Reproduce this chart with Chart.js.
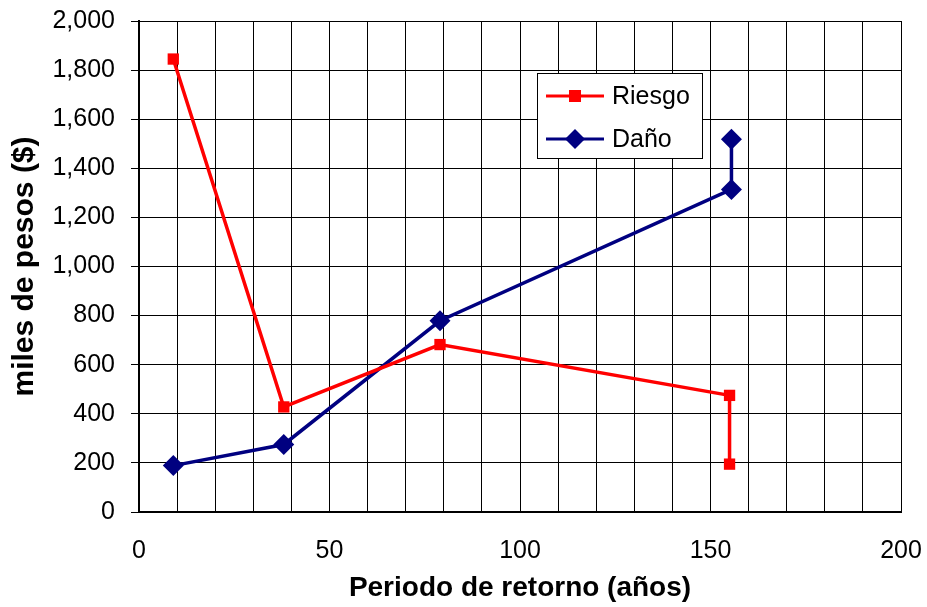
<!DOCTYPE html>
<html>
<head>
<meta charset="utf-8">
<script src="https://cdn.jsdelivr.net/npm/chart.js@4/dist/chart.umd.min.js"></script>
<style>
  html, body { margin: 0; padding: 0; background: #fff; }
  #wrap { width: 927px; height: 607px; }
</style>
</head>
<body>
<div id="wrap"><canvas id="myChart" width="927" height="607"></canvas></div>
<script>
// values
const riesgoX = [9, 38, 79, 155, 155];
const riesgoY = [1845, 428, 682, 475, 195];
const danoX = [9, 38, 79, 155.5, 155.5];
const danoY = [189, 275, 779, 1314, 1518];
const xTicks = [0, 50, 100, 150, 200];
const seriesNames = ["Riesgo", "Daño"];

const FONT = "'Liberation Sans', Arial, sans-serif";

function toPoints(xs, ys) {
  return xs.map((x, i) => ({ x: x, y: ys[i] }));
}

// legend box drawn inside the plot area
const boxLegend = {
  id: "boxLegend",
  afterDatasetsDraw(chart) {
    const ctx = chart.ctx;
    const x0 = 537, y0 = 73, w = 165, h = 85;
    ctx.save();
    ctx.fillStyle = "#fff";
    ctx.fillRect(x0, y0, w, h);
    ctx.strokeStyle = "#000";
    ctx.lineWidth = 1;
    ctx.strokeRect(x0 + 0.5, y0 + 0.5, w, h);
    chart.data.datasets.forEach((ds, i) => {
      const cy = y0 + 23 + i * 43;
      ctx.strokeStyle = ds.borderColor;
      ctx.lineWidth = 3;
      ctx.beginPath();
      ctx.moveTo(546, cy);
      ctx.lineTo(604, cy);
      ctx.stroke();
      ctx.fillStyle = ds.borderColor;
      ctx.beginPath();
      if (ds.pointStyle === "rect") {
        ctx.rect(575 - 6, cy - 6, 12, 12);
      } else {
        ctx.moveTo(575 - 10, cy);
        ctx.lineTo(575, cy - 10);
        ctx.lineTo(575 + 10, cy);
        ctx.lineTo(575, cy + 10);
        ctx.closePath();
      }
      ctx.fill();
      ctx.fillStyle = "#000";
      ctx.font = "25px " + FONT;
      ctx.textBaseline = "middle";
      ctx.textAlign = "left";
      ctx.fillText(ds.label, 612, cy + 1);
    });
    ctx.restore();
  }
};

const ctx = document.getElementById("myChart").getContext("2d");
const myChart = new Chart(ctx, {
  type: "scatter",
  data: {
    datasets: [
      {
        label: seriesNames[0],
        data: toPoints(riesgoX, riesgoY),
        showLine: true,
        borderColor: "#ff0000",
        backgroundColor: "#ff0000",
        borderWidth: 3.5,
        pointStyle: "rect",
        pointRadius: 8,
        pointBorderWidth: 0,
        pointHoverRadius: 8,
      },
      {
        label: seriesNames[1],
        data: toPoints(danoX, danoY),
        showLine: true,
        borderColor: "#000080",
        backgroundColor: "#000080",
        borderWidth: 3.5,
        pointStyle: "rectRot",
        pointRadius: 10.5,
        pointBorderWidth: 0,
        pointHoverRadius: 10.5,
      },
    ],
  },
  options: {
    responsive: false,
    animation: false,
    layout: { padding: { left: 0, right: 26, top: 21, bottom: 0 } },
    plugins: {
      legend: { display: false },
      tooltip: { enabled: false },
    },
    scales: {
      x: {
        type: "linear",
        min: 0,
        max: 200,
        afterFit(scale) {
          scale.height = 95;
          scale.paddingLeft = 0;
          scale.paddingRight = 0;
        },
        afterBuildTicks(scale) {
          const t = [];
          for (let v = 0; v <= 200; v += 10) t.push({ value: v });
          scale.ticks = t;
        },
        ticks: {
          color: "#000",
          font: { family: FONT, size: 25 },
          padding: 24,
          maxRotation: 0,
          autoSkip: false,
          callback: (v) => (xTicks.includes(v) ? String(v) : ""),
        },
        grid: { color: "#000", lineWidth: 1, drawTicks: false },
        border: { color: "#000", width: 2 },
        title: {
          display: true,
          text: "Periodo de retorno (años)",
          color: "#000",
          font: { family: FONT, size: 28, weight: "bold" },
          padding: { top: 0, bottom: 2 },
        },
      },
      y: {
        min: 0,
        max: 2000,
        afterFit(scale) {
          scale.width = 139;
          scale.paddingTop = 0;
          scale.paddingBottom = 0;
        },
        ticks: {
          stepSize: 200,
          color: "#000",
          font: { family: FONT, size: 25 },
          padding: 16,
          callback: (v) => v.toLocaleString("en-US"),
        },
        grid: { color: "#000", lineWidth: 1, tickLength: 8 },
        border: { color: "#000", width: 2 },
        title: {
          display: true,
          text: "miles de pesos ($)",
          color: "#000",
          font: { family: FONT, size: 30, weight: "bold" },
          padding: { top: 7, bottom: 0 },
        },
      },
    },
  },
  plugins: [boxLegend],
});
</script>
</body>
</html>
